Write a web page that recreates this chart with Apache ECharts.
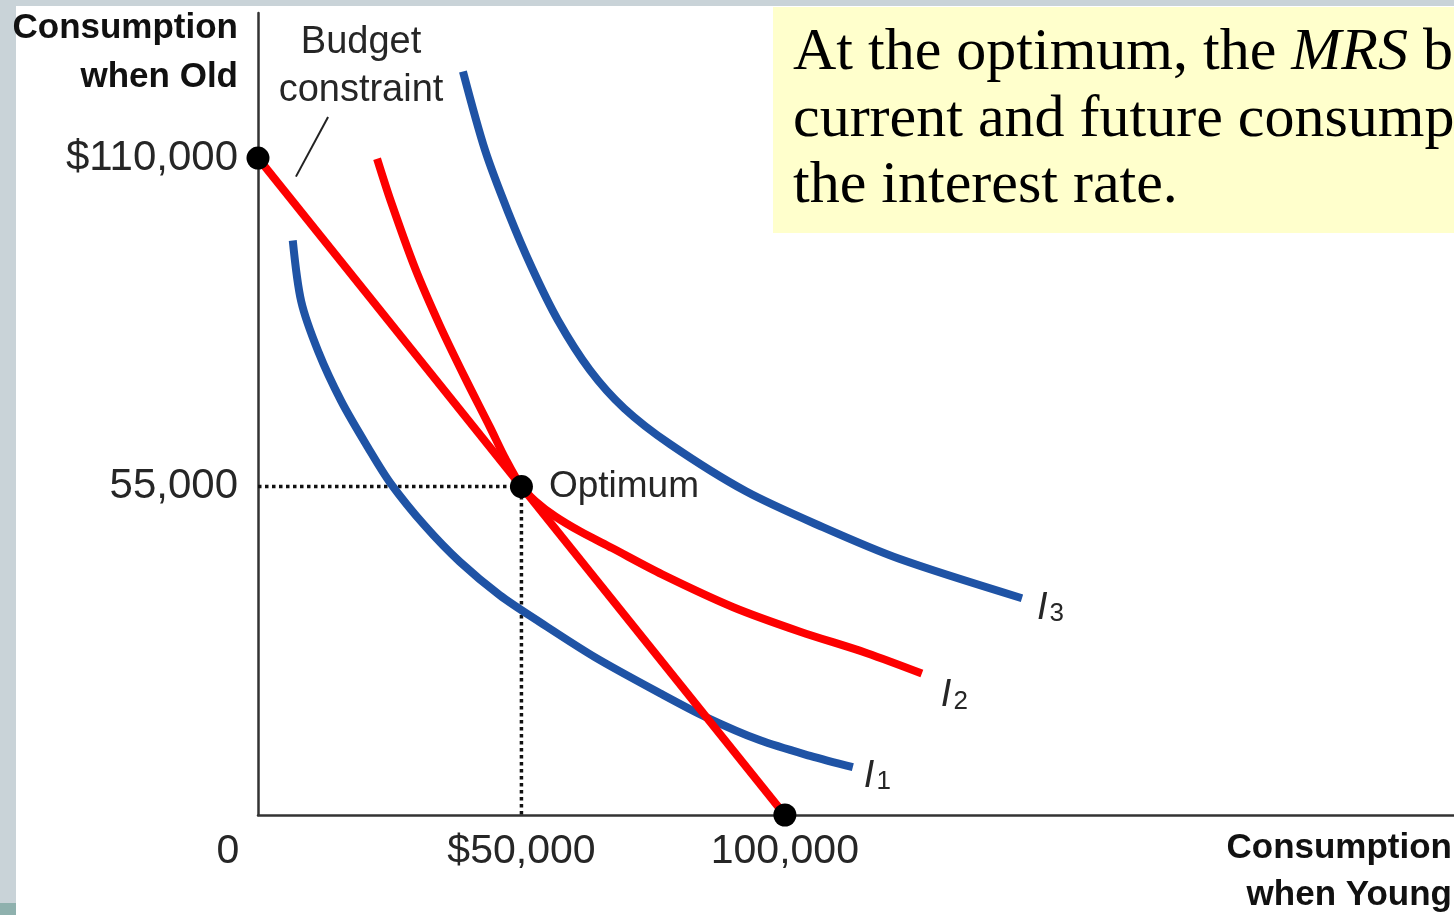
<!DOCTYPE html>
<html>
<head>
<meta charset="utf-8">
<script src="https://cdn.jsdelivr.net/npm/echarts@6/dist/echarts.min.js"></script>
<style>
html,body{margin:0;padding:0;background:#fff;}
#chart{width:1454px;height:915px;}
</style>
</head>
<body>
<div id="chart"></div>
<script>
// ---- data (dollars) ----
const xTickLabels = { 0: '0', 50000: '$50,000', 100000: '100,000' };
const yTickLabels = { 55000: '55,000', 110000: '$110,000' };

const budgetLine = [[0, 110000], [100000, 0]];
const keyPoints = [[0, 110000], [50000, 55000], [100000, 0]];
const optimumGuide = [[0, 55000], [50000, 55000], [50000, 0]];
const leaderLine = [[13300, 116900], [7200, 106900]];

const indiff1 = [
  [6600, 96200], [8200, 86000], [11400, 77700], [15800, 69300], [20900, 61500],
  [25200, 55500], [31700, 48400], [38300, 42400], [45900, 36800], [53500, 32300],
  [64000, 26400], [76300, 20400], [85000, 16400], [95300, 12500], [104800, 9900],
  [112900, 8000]
];
const indiff2 = [
  [22600, 109900], [25200, 102800], [29800, 91600], [34500, 82000], [39300, 73200],
  [44000, 65000], [47000, 59600], [50000, 55000], [52600, 52600], [56400, 50000],
  [61100, 47500], [67200, 44700], [76700, 40300], [90200, 34800], [102900, 30700],
  [115600, 27100], [126000, 23700]
];
const indiff3 = [
  [38900, 124500], [43100, 111300], [47500, 100900], [52000, 91600], [56900, 82900],
  [63000, 74500], [69500, 68100], [78200, 62100], [92600, 54200], [107200, 48200],
  [121700, 42900], [145000, 36300]
];
const curveNames = ['1', '2', '3'];
const noteLines = ['At the optimum, the ', 'MRS', ' between', 'current and future consumption', 'the interest rate.'];

// ---- styling ----
const BLUE = '#1f53a5';
const RED = '#fd0000';
const INK = '#262626';
const SANS = 'Liberation Sans, Arial, sans-serif';
const SERIF = 'Liberation Serif, Times New Roman, serif';

function curveLabel(idx, offset) {
  return {
    show: true,
    formatter: '{i|I}{s|' + curveNames[idx] + '}',
    offset: offset,
    distance: 6,
    rich: {
      i: { fontFamily: SANS, fontStyle: 'italic', fontSize: 38, lineHeight: 38, color: INK, verticalAlign: 'top' },
      s: { fontFamily: SANS, fontSize: 26, lineHeight: 26, color: INK, verticalAlign: 'bottom', padding: [17, 0, 0, 2] }
    }
  };
}

function curveSeries(name, data, color, idx, offset) {
  return {
    name: name, type: 'line', data: data, smooth: 0.3,
    showSymbol: false, symbol: 'none', clip: false, silent: true, z: 3,
    lineStyle: { color: color, width: 8, cap: 'butt' },
    endLabel: curveLabel(idx, offset)
  };
}

const chart = echarts.init(document.getElementById('chart'), null, { renderer: 'canvas' });

const option = {
  backgroundColor: '#ffffff',
  animation: false,
  grid: { left: 258, top: 13, right: 0, bottom: 100, containLabel: false, outerBoundsMode: 'none' },
  xAxis: {
    type: 'value', min: 0, max: 227000, interval: 50000,
    name: 'Consumption\nwhen Young', nameLocation: 'end', nameGap: -2,
    nameTextStyle: { fontFamily: SANS, fontWeight: 'bold', fontSize: 35, lineHeight: 47, color: '#111',
      align: 'right', verticalAlign: 'top', padding: [10, 0, 0, 0] },
    axisLine: { show: true, onZero: false, lineStyle: { color: '#333', width: 2.5 } },
    axisTick: { show: false },
    splitLine: { show: false },
    axisLabel: {
      show: true, margin: 16, fontFamily: SANS, fontSize: 41, color: INK,
      showMaxLabel: false,
      formatter: function (v) {
        if (v === 0) return '{z|0}';
        return xTickLabels[v] || '';
      },
      rich: { z: { fontFamily: SANS, fontSize: 41, color: INK, padding: [0, 60, 0, 0] } }
    }
  },
  yAxis: {
    type: 'value', min: 0, max: 134300, interval: 55000,
    name: 'Consumption\nwhen Old', nameLocation: 'end', nameGap: 9,
    nameTextStyle: { fontFamily: SANS, fontWeight: 'bold', fontSize: 35, lineHeight: 49, color: '#111',
      align: 'right', verticalAlign: 'top', padding: [0, 20, 0, 0] },
    axisLine: { show: true, onZero: false, lineStyle: { color: '#333', width: 2.5 } },
    axisTick: { show: false },
    splitLine: { show: false },
    axisLabel: {
      show: true, margin: 20, fontFamily: SANS, fontSize: 42, color: INK,
      showMinLabel: false, showMaxLabel: false,
      formatter: function (v) { return yTickLabels[v] || ''; }
    }
  },
  graphic: {
    elements: [
      { type: 'rect', silent: true, z: -10, shape: { x: 0, y: 0, width: 16, height: 915 }, style: { fill: '#c9d3d8' } },
      { type: 'rect', silent: true, z: -10, shape: { x: 0, y: 0, width: 1454, height: 6 }, style: { fill: '#c9d3d8' } },
      { type: 'rect', silent: true, z: -9, shape: { x: 0, y: 903, width: 16, height: 12 }, style: { fill: '#8fb1ae' } },
      { type: 'rect', silent: true, z: 5, shape: { x: 773, y: 7, width: 681, height: 226 }, style: { fill: '#ffffcc' } },
      {
        type: 'text', silent: true, z: 6, x: 793, y: 20,
        style: {
          text: '{r|' + noteLines[0] + '}{it|' + noteLines[1] + '}{r|' + noteLines[2] + '}\n{r|' + noteLines[3] + '}\n{r|' + noteLines[4] + '}',
          align: 'left', verticalAlign: 'top',
          rich: {
            r: { fontFamily: SERIF, fontSize: 60, lineHeight: 66.5, fill: '#000' },
            it: { fontFamily: SERIF, fontStyle: 'italic', fontSize: 60, lineHeight: 66.5, fill: '#000' }
          }
        }
      },
      {
        type: 'text', silent: true, z: 6, x: 361, y: 19,
        style: {
          text: 'Budget\nconstraint', align: 'center', verticalAlign: 'top',
          fontFamily: SANS, fontSize: 38, lineHeight: 48, fill: INK
        }
      }
    ]
  },
  series: [
    {
      name: 'guide', type: 'line', data: optimumGuide, symbol: 'none', clip: false, silent: true, z: 2,
      lineStyle: { color: '#111', width: 3.5, type: [3.5, 3.5] }
    },
    {
      name: 'leader', type: 'line', data: leaderLine, symbol: 'none', clip: false, silent: true, z: 2,
      lineStyle: { color: '#222', width: 2 }
    },
    curveSeries('I1', indiff1, BLUE, 0, [5, 9]),
    curveSeries('I3', indiff3, BLUE, 2, [9, 10]),
    curveSeries('I2', indiff2, RED, 1, [13, 22]),
    {
      name: 'Budget constraint', type: 'line', data: budgetLine, symbol: 'none', clip: false, silent: true, z: 4,
      lineStyle: { color: RED, width: 8 }
    },
    {
      name: 'points', type: 'scatter', data: keyPoints, symbolSize: 23, clip: false, silent: true, z: 6,
      itemStyle: { color: '#000', opacity: 1 },
      label: {
        show: true, position: 'right', distance: 16, fontFamily: SANS, fontSize: 37, color: INK,
        formatter: function (p) { return p.dataIndex === 1 ? 'Optimum' : ''; }
      }
    }
  ]
};
chart.setOption(option);
</script>
</body>
</html>
